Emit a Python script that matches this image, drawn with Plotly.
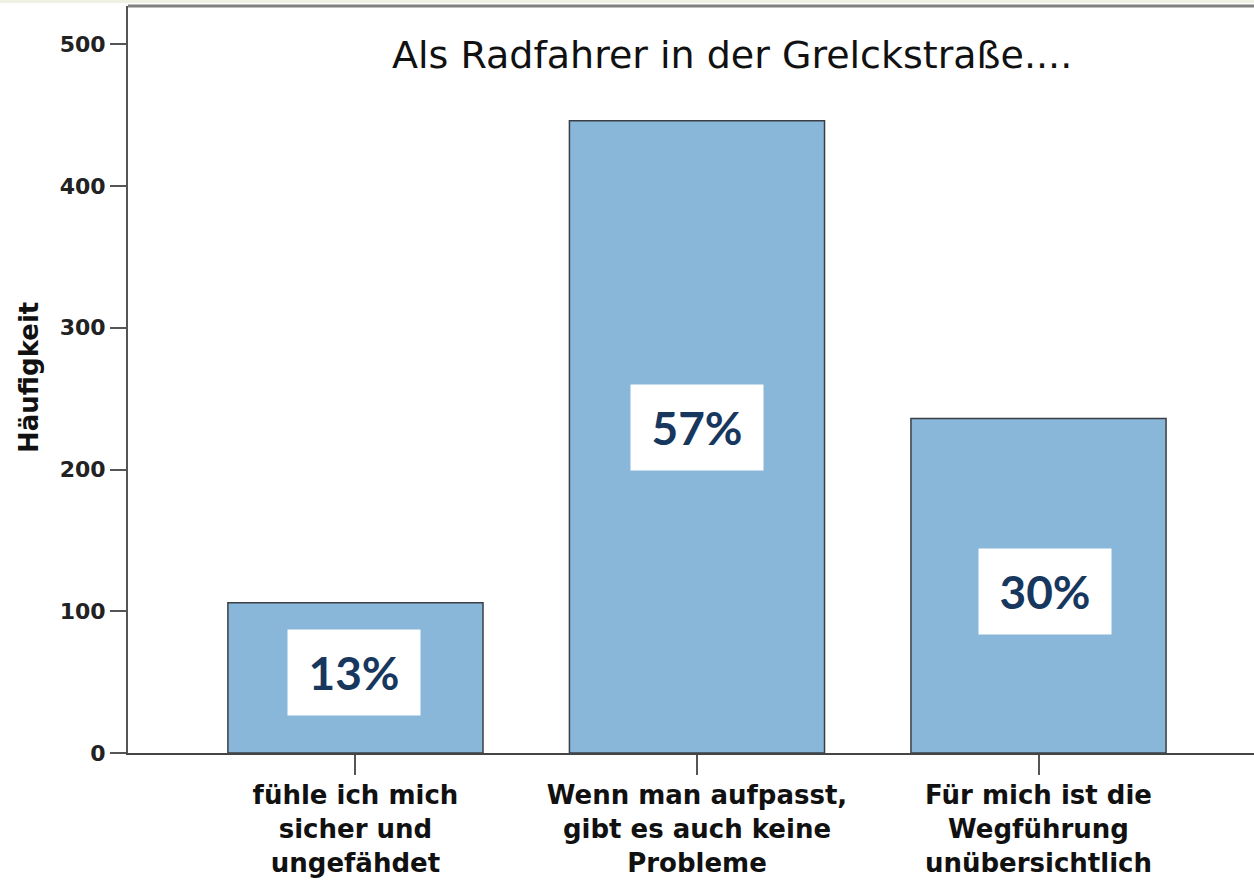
import plotly.graph_objects as go

categories = [
    "fühle ich mich<br>sicher und<br>ungefähdet",
    "Wenn man aufpasst,<br>gibt es auch keine<br>Probleme",
    "Für mich ist die<br>Wegführung<br>unübersichtlich",
]
counts = [106, 446, 236]
percent_labels = ["13%", "57%", "30%"]
y_ticks = [0, 100, 200, 300, 400, 500]
title_text = "Als Radfahrer in der Grelckstraße...."
y_title = "Häufigkeit"

W, H = 1254, 880
ML, MR, MT, MB = 128, 0, 6, 127
PW = W - ML - MR
PH = H - MT - MB

x_idx = list(range(len(categories)))

fig = go.Figure()
fig.add_trace(go.Bar(
    x=x_idx, y=counts, width=0.747,
    marker=dict(color="#88b7da", line=dict(color="#3a3f45", width=1.5)),
    hoverinfo="skip",
))

label_shift_x = [-1, 0, 6]
label_shift_y = [5, 9, -6]
for i, (c, p) in enumerate(zip(counts, percent_labels)):
    fig.add_annotation(
        x=i, y=c / 2, xref="x", yref="y", text=f"<b>{p}</b>",
        showarrow=False, bgcolor="white", width=132, height=85, borderpad=0,
        xshift=label_shift_x[i], yshift=label_shift_y[i],
        font=dict(family="Lato", size=46, color="#17375e"),
    )

fig.add_annotation(
    x=(732 - ML) / PW, y=(H - MB - 55) / PH, xref="paper", yref="paper",
    xanchor="center", yanchor="middle",
    text=title_text, showarrow=False,
    font=dict(family="DejaVu Sans", size=38, color="#111"),
)
fig.add_annotation(
    x=(29 - ML) / PW, y=(H - MB - 378) / PH, xref="paper", yref="paper",
    xanchor="center", yanchor="middle",
    text=f"<b>{y_title}</b>", textangle=-90, showarrow=False,
    font=dict(family="DejaVu Sans", size=26, color="#111"),
)

# top frame line and thin strip above
fig.add_shape(type="line", xref="paper", yref="paper", x0=0, x1=1, y0=1, y1=1,
              line=dict(color="#808080", width=3))
fig.add_shape(type="rect", xref="paper", yref="paper", x0=-ML / PW, x1=1,
              y0=1 + 3 / PH, y1=1 + MT / PH, line=dict(width=0), fillcolor="#eef2e2")

fig.update_layout(
    width=W, height=H,
    margin=dict(l=ML, r=MR, t=MT, b=MB, pad=0, autoexpand=False),
    paper_bgcolor="white", plot_bgcolor="white",
    showlegend=False,
    xaxis=dict(
        range=[-0.666, 2.631], tickmode="array", tickvals=x_idx, ticktext=[f"<b>{c}</b>" for c in categories],
        ticks="outside", ticklen=20, tickwidth=2, tickcolor="#555", automargin=False,
        ticklabelstandoff=-2,
        showline=True, linecolor="#444", linewidth=2, showgrid=False, zeroline=False,
        tickfont=dict(family="DejaVu Sans", size=26, color="#111"),
    ),
    yaxis=dict(
        range=[0, 527], tickmode="array", tickvals=y_ticks, automargin=False,
        ticks="outside", ticklen=16, tickwidth=2, tickcolor="#555",
        showline=True, linecolor="#555", linewidth=2, showgrid=False, zeroline=False,
        tickfont=dict(family="DejaVu Sans", size=22, color="#222", weight="bold"),
    ),
)

fig.write_html("out.html", config={"displayModeBar": False},
               post_script="document.body.style.margin='0';document.body.style.overflow='hidden';")
